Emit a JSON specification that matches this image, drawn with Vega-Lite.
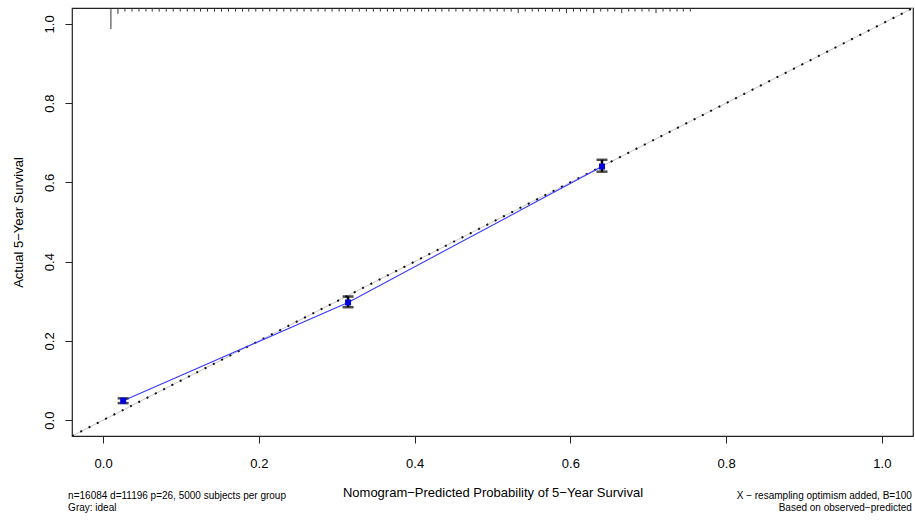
{
  "$schema": "https://vega.github.io/schema/vega-lite/v6.json",
  "autosize": {"type": "none"},
  "width": 841,
  "height": 428,
  "padding": {"left": 72, "top": 8, "right": 2, "bottom": 85},
  "background": "white",
  "config": {
    "view": {"stroke": "#222222", "strokeWidth": 1.2},
    "font": "Liberation Sans",
    "axis": {"grid": false, "domain": false, "tickColor": "#222222", "tickSize": 7, "labelColor": "black", "labelFont": "Liberation Sans", "labelFontSize": 13, "titleFont": "Liberation Sans", "titleFontSize": 13, "titleFontWeight": "normal", "titleColor": "black"}
  },
  "datasets": {
    "ideal": [{"p": -0.04, "o": -0.04}, {"p": 1.04, "o": 1.04}],
    "cal": [
      {"p": 0.0257, "o": 0.049, "lo": 0.043, "hi": 0.055},
      {"p": 0.3145, "o": 0.297, "lo": 0.285, "hi": 0.312},
      {"p": 0.6406, "o": 0.640, "lo": 0.627, "hi": 0.657}
    ],
    "rug": [
      {"p": 0.010, "end": 0.987}, {"p": 0.019, "end": 1.025}, {"p": 0.028, "end": 1.031}, {"p": 0.037, "end": 1.031},
      {"p": 0.046, "end": 1.031}, {"p": 0.055, "end": 1.031}, {"p": 0.063, "end": 1.031}, {"p": 0.072, "end": 1.031},
      {"p": 0.081, "end": 1.031}, {"p": 0.090, "end": 1.031}, {"p": 0.099, "end": 1.031}, {"p": 0.108, "end": 1.031},
      {"p": 0.117, "end": 1.031}, {"p": 0.125, "end": 1.031}, {"p": 0.134, "end": 1.031}, {"p": 0.143, "end": 1.031},
      {"p": 0.152, "end": 1.031}, {"p": 0.161, "end": 1.031}, {"p": 0.170, "end": 1.031}, {"p": 0.179, "end": 1.031},
      {"p": 0.187, "end": 1.031}, {"p": 0.196, "end": 1.031}, {"p": 0.205, "end": 1.031}, {"p": 0.214, "end": 1.031},
      {"p": 0.223, "end": 1.031}, {"p": 0.232, "end": 1.031}, {"p": 0.241, "end": 1.031}, {"p": 0.249, "end": 1.031},
      {"p": 0.258, "end": 1.031}, {"p": 0.267, "end": 1.031}, {"p": 0.276, "end": 1.031}, {"p": 0.285, "end": 1.031},
      {"p": 0.294, "end": 1.031}, {"p": 0.303, "end": 1.031}, {"p": 0.311, "end": 1.031}, {"p": 0.320, "end": 1.031},
      {"p": 0.329, "end": 1.031}, {"p": 0.338, "end": 1.031}, {"p": 0.347, "end": 1.031}, {"p": 0.356, "end": 1.031},
      {"p": 0.365, "end": 1.031}, {"p": 0.373, "end": 1.031}, {"p": 0.382, "end": 1.031}, {"p": 0.391, "end": 1.031},
      {"p": 0.400, "end": 1.031}, {"p": 0.409, "end": 1.031}, {"p": 0.418, "end": 1.031}, {"p": 0.427, "end": 1.031},
      {"p": 0.435, "end": 1.031}, {"p": 0.444, "end": 1.031}, {"p": 0.453, "end": 1.031}, {"p": 0.462, "end": 1.031},
      {"p": 0.471, "end": 1.031}, {"p": 0.480, "end": 1.031}, {"p": 0.489, "end": 1.031}, {"p": 0.497, "end": 1.031},
      {"p": 0.506, "end": 1.031}, {"p": 0.515, "end": 1.031}, {"p": 0.524, "end": 1.031}, {"p": 0.533, "end": 1.027},
      {"p": 0.542, "end": 1.031}, {"p": 0.551, "end": 1.031}, {"p": 0.559, "end": 1.031}, {"p": 0.568, "end": 1.031},
      {"p": 0.577, "end": 1.031}, {"p": 0.586, "end": 1.031}, {"p": 0.595, "end": 1.027}, {"p": 0.604, "end": 1.031},
      {"p": 0.613, "end": 1.031}, {"p": 0.621, "end": 1.031}, {"p": 0.630, "end": 1.027}, {"p": 0.639, "end": 1.031},
      {"p": 0.648, "end": 1.031}, {"p": 0.657, "end": 1.031}, {"p": 0.666, "end": 1.027}, {"p": 0.675, "end": 1.031},
      {"p": 0.683, "end": 1.031}, {"p": 0.692, "end": 1.031}, {"p": 0.701, "end": 1.031}, {"p": 0.710, "end": 1.027},
      {"p": 0.719, "end": 1.031}, {"p": 0.728, "end": 1.031}, {"p": 0.737, "end": 1.031}, {"p": 0.745, "end": 1.031},
      {"p": 0.754, "end": 1.031}
    ],
    "notesLeft": [
      {"p": -0.045, "o": -0.191, "label": "n=16084 d=11196 p=26, 5000 subjects per group"},
      {"p": -0.045, "o": -0.221, "label": "Gray: ideal"}
    ],
    "notesRight": [
      {"p": 1.0385, "o": -0.191, "label": "X − resampling optimism added, B=100"},
      {"p": 1.0385, "o": -0.221, "label": "Based on observed−predicted"}
    ]
  },
  "layer": [
    {
      "data": {"name": "ideal"},
      "mark": {"type": "line", "color": "#c8c8c8", "strokeWidth": 1, "clip": true},
      "encoding": {
        "x": {"field": "p", "type": "quantitative", "scale": {"domain": [-0.04, 1.04], "nice": false, "zero": false},
              "axis": {"values": [0, 0.2, 0.4, 0.6, 0.8, 1.0], "format": ".1f", "labelPadding": 14, "title": "Nomogram−Predicted Probability of 5−Year Survival", "titlePadding": 16}},
        "y": {"field": "o", "type": "quantitative", "scale": {"domain": [-0.04, 1.04], "nice": false, "zero": false},
              "axis": {"values": [0, 0.2, 0.4, 0.6, 0.8, 1.0], "format": ".1f", "labelAngle": -90, "labelAlign": "center", "labelBaseline": "bottom", "labelPadding": 9, "title": "Actual 5−Year Survival", "titlePadding": 18}}
      }
    },
    {
      "data": {"name": "ideal"},
      "mark": {"type": "line", "color": "#111111", "strokeWidth": 2, "strokeDash": [2, 7.3], "strokeCap": "butt", "clip": true},
      "encoding": {
        "x": {"field": "p", "type": "quantitative"},
        "y": {"field": "o", "type": "quantitative"}
      }
    },
    {
      "data": {"name": "cal"},
      "mark": {"type": "line", "color": "#3a3aff", "strokeWidth": 1.1},
      "encoding": {
        "x": {"field": "p", "type": "quantitative"},
        "y": {"field": "o", "type": "quantitative"}
      }
    },
    {
      "data": {"name": "cal"},
      "mark": {"type": "rule", "color": "black", "strokeWidth": 2.5},
      "encoding": {
        "x": {"field": "p", "type": "quantitative"},
        "y": {"field": "lo", "type": "quantitative"},
        "y2": {"field": "hi"}
      }
    },
    {
      "data": {"name": "cal"},
      "mark": {"type": "tick", "orient": "horizontal", "color": "black", "size": 11, "thickness": 2.5},
      "encoding": {
        "x": {"field": "p", "type": "quantitative"},
        "y": {"field": "lo", "type": "quantitative"}
      }
    },
    {
      "data": {"name": "cal"},
      "mark": {"type": "tick", "orient": "horizontal", "color": "black", "size": 11, "thickness": 2.5},
      "encoding": {
        "x": {"field": "p", "type": "quantitative"},
        "y": {"field": "hi", "type": "quantitative"}
      }
    },
    {
      "data": {"name": "cal"},
      "mark": {"type": "point", "shape": "square", "filled": true, "color": "#0000dd", "size": 36, "opacity": 1},
      "encoding": {
        "x": {"field": "p", "type": "quantitative"},
        "y": {"field": "o", "type": "quantitative"}
      }
    },
    {
      "data": {"name": "rug"},
      "mark": {"type": "rule", "color": "#333333", "strokeWidth": 1},
      "encoding": {
        "x": {"field": "p", "type": "quantitative"},
        "y": {"field": "end", "type": "quantitative"},
        "y2": {"datum": 1.04}
      }
    },
    {
      "data": {"name": "notesLeft"},
      "mark": {"type": "text", "align": "left", "baseline": "middle", "fontSize": 10, "font": "Liberation Sans", "color": "black", "clip": false},
      "encoding": {
        "x": {"field": "p", "type": "quantitative"},
        "y": {"field": "o", "type": "quantitative"},
        "text": {"field": "label"}
      }
    },
    {
      "data": {"name": "notesRight"},
      "mark": {"type": "text", "align": "right", "baseline": "middle", "fontSize": 10, "font": "Liberation Sans", "color": "black", "clip": false},
      "encoding": {
        "x": {"field": "p", "type": "quantitative"},
        "y": {"field": "o", "type": "quantitative"},
        "text": {"field": "label"}
      }
    }
  ]
}
